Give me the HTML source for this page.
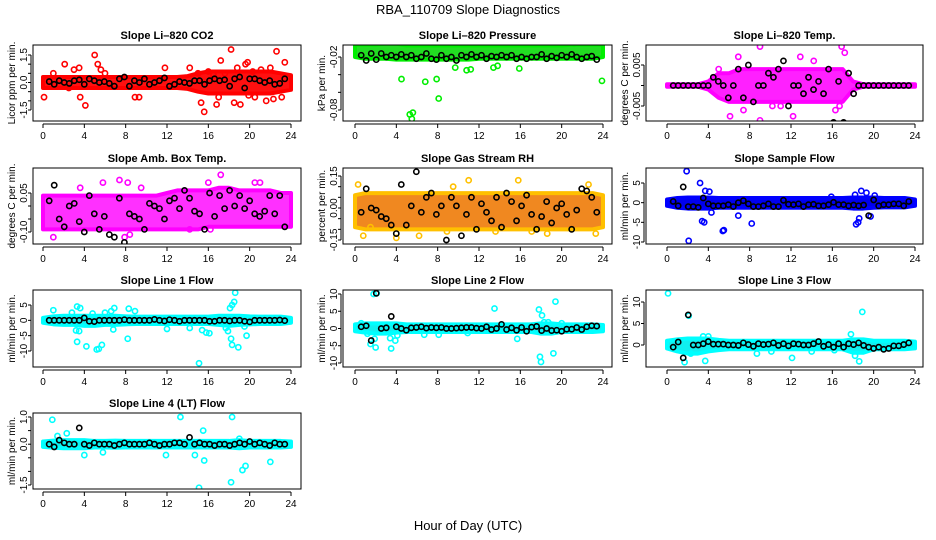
<!DOCTYPE html>
<html><head><meta charset="utf-8"><style>
html,body{margin:0;padding:0;background:#fff;}
svg{display:block;font-family:"Liberation Sans",Arial,sans-serif;}
</style></head><body>
<svg id="chart" width="936" height="540" viewBox="0 0 936 540" xmlns="http://www.w3.org/2000/svg">
<rect width="936" height="540" fill="#fff"/>
<text x="468" y="14" text-anchor="middle" font-size="13">RBA_110709  Slope Diagnostics</text>
<text x="468" y="530" text-anchor="middle" font-size="13">Hour of Day (UTC)</text>
<g id="panels"></g>
</svg>
<script>
const xTicks=[0,4,8,12,16,20,24];
const bandHours=[0,1,2,3,4,5,6,7,8,9,10,11,12,13,14,15,16,17,18,19,20,21,22,23,24];

const co2Hi=[0.3,0.3,0.3,0.3,0.3,0.3,0.3,0.3,0.3,0.3,0.3,0.3,0.3,0.3,0.35,0.5,0.6,0.6,0.6,0.6,0.6,0.6,0.6,0.5,0.4];
const co2Lo=[-0.3,-0.3,-0.3,-0.3,-0.3,-0.3,-0.3,-0.3,-0.3,-0.3,-0.3,-0.3,-0.3,-0.3,-0.35,-0.5,-0.6,-0.6,-0.6,-0.6,-0.6,-0.6,-0.6,-0.5,-0.4];
const co2Out=[[0.1,-0.8],[2.1,1.0],[3.0,0.7],[3.5,0.8],[3.6,-0.8],[4.1,-1.25],[5.0,1.5],[5.3,1.0],[5.6,0.7],[6.0,0.5],[8.9,-0.8],[9.3,-0.8],[11.8,0.8],[14.2,0.8],[15.3,-1.1],[15.6,-1.6],[16.0,0.6],[16.8,-1.2],[17.2,1.2],[18.2,1.8],[18.5,-1.1],[19.1,-1.2],[19.6,1.0],[19.8,1.1],[20.3,0.6],[21.1,0.7],[21.6,-1.0],[22.0,0.8],[22.6,1.7],[23.1,-0.8],[23.4,1.1],[16.5,0.4],[17.6,0.5],[18.8,0.8],[20.5,-0.8],[19.9,-0.7],[15.0,0.5],[17.0,-0.8],[22.3,-0.9],[1.0,0.5],[2.5,-0.3]];
const co2Black=[0.05,-0.1,0.1,0,-0.05,0.1,0.15,-0.1,0.2,0.1,0,0.05,-0.05,-0.2,0.2,0.3,-0.2,0.1,0,0.2,-0.1,0,0.1,0.25,-0.2,-0.1,0.05,0,-0.05,0.1,0.1,-0.1,0.1,0.2,0.1,0.15,-0.2,0.2,0.3,-0.3,0.2,0.2,0.1,0,0.1,-0.1,-0.05,0.2];

const presHi=[-0.006,-0.006,-0.006,-0.005,-0.005,-0.007,-0.007,-0.007,-0.007,-0.007,-0.007,-0.007,-0.007,-0.007,-0.007,-0.007,-0.007,-0.007,-0.007,-0.007,-0.007,-0.006,-0.006,-0.006,-0.006];
const presLo=[-0.02,-0.022,-0.022,-0.022,-0.023,-0.023,-0.023,-0.023,-0.023,-0.023,-0.023,-0.023,-0.022,-0.022,-0.022,-0.022,-0.022,-0.022,-0.022,-0.022,-0.022,-0.022,-0.022,-0.022,-0.02];
const presOut=[[4.5,-0.045],[5.3,-0.085],[5.5,-0.09],[5.6,-0.083],[6.8,-0.048],[7.9,-0.045],[8.1,-0.067],[9.7,-0.032],[10.8,-0.035],[11.2,-0.034],[13.4,-0.032],[13.8,-0.03],[15.9,-0.033],[23.9,-0.047],[0.8,-0.003],[3.6,-0.003],[17.0,-0.003],[21.2,-0.005]];
const presBlack=[-0.018,-0.024,-0.016,-0.023,-0.016,-0.02,-0.018,-0.02,-0.017,-0.02,-0.018,-0.022,-0.02,-0.016,-0.022,-0.023,-0.018,-0.022,-0.02,-0.024,-0.018,-0.02,-0.017,-0.02,-0.018,-0.022,-0.019,-0.02,-0.018,-0.02,-0.018,-0.022,-0.02,-0.022,-0.02,-0.02,-0.017,-0.022,-0.019,-0.021,-0.018,-0.02,-0.017,-0.02,-0.022,-0.02,-0.019,-0.023];

const tempHi=[0.0003,0.0003,0.0003,0.0003,0.001,0.003,0.003,0.004,0.004,0.004,0.004,0.004,0.004,0.004,0.004,0.004,0.004,0.004,0.001,0.0003,0.0003,0.0003,0.0003,0.0003,0.0003];
const tempLo=[-0.0003,-0.0003,-0.0003,-0.0003,-0.001,-0.003,-0.004,-0.004,-0.004,-0.004,-0.004,-0.004,-0.004,-0.004,-0.004,-0.004,-0.004,-0.004,-0.001,-0.0003,-0.0003,-0.0003,-0.0003,-0.0003,-0.0003];
const tempOut=[[9.0,0.0095],[16.9,0.0095],[9.0,-0.0085],[6.1,-0.0075],[12.2,-0.0075],[6.9,0.007],[17.2,0.008],[12.9,0.007],[14.2,0.006],[16.7,-0.005],[10.2,-0.005],[7.4,-0.006],[16.3,-0.006],[5.0,0.004],[11.0,-0.005]];
const tempBlack=[0,0,0,0,0,0,0,0,0.002,0.001,0,-0.003,0,0.004,-0.003,0.005,-0.004,0,0,0.003,0.002,0.004,0.006,-0.005,0,0,-0.002,0.002,-0.001,0.001,-0.002,0.004,-0.009,0.001,-0.009,0.003,-0.002,0,0,0,0,0,0,0,0,0,0,0];

const ambHi=[0.04,0.04,0.04,0.04,0.04,0.04,0.04,0.04,0.04,0.04,0.04,0.04,0.05,0.06,0.06,0.06,0.06,0.07,0.07,0.06,0.06,0.06,0.06,0.05,0.05];
const ambLo=[-0.09,-0.09,-0.09,-0.09,-0.09,-0.09,-0.09,-0.09,-0.09,-0.09,-0.09,-0.09,-0.09,-0.09,-0.09,-0.09,-0.08,-0.08,-0.08,-0.08,-0.08,-0.08,-0.08,-0.08,-0.08];
const ambOut=[[5.0,-0.16],[7.9,-0.12],[8.4,-0.11],[1.0,-0.12],[5.8,0.09],[7.4,0.1],[8.2,0.09],[16.0,0.09],[17.2,0.12],[20.5,0.09],[21.0,0.09],[14.2,-0.09],[16.2,-0.09],[3.6,0.07],[9.5,0.07]];
const ambBlack=[0.02,0.08,-0.05,-0.08,0,0.01,-0.06,-0.1,0.04,-0.03,-0.09,-0.04,-0.11,-0.12,0.03,-0.14,-0.03,-0.04,-0.05,-0.09,0.01,0,-0.01,-0.05,0.02,0.03,-0.01,0.06,0.03,-0.02,-0.03,-0.09,0.05,-0.04,0.04,-0.01,0.06,0,0.04,-0.01,0.02,-0.03,-0.04,-0.02,0.04,-0.03,0.04,-0.08];

const rhHi=[0.06,0.07,0.07,0.07,0.07,0.07,0.07,0.07,0.07,0.07,0.07,0.07,0.07,0.07,0.07,0.07,0.07,0.07,0.07,0.07,0.07,0.07,0.07,0.07,0.06];
const rhLo=[-0.09,-0.1,-0.1,-0.1,-0.1,-0.1,-0.1,-0.1,-0.1,-0.1,-0.1,-0.1,-0.1,-0.1,-0.1,-0.1,-0.1,-0.1,-0.1,-0.1,-0.1,-0.1,-0.1,-0.1,-0.09];
const rhOut=[[0.3,0.11],[0.8,-0.13],[4.0,-0.14],[6.2,-0.13],[8.9,-0.11],[11.0,0.13],[15.8,0.13],[17.1,-0.11],[18.6,-0.12],[23.3,-0.12],[22.6,0.11],[13.6,-0.11],[1.5,-0.09],[9.5,0.1]];
const rhBlack=[-0.02,0.09,0,-0.01,-0.04,-0.05,-0.08,-0.12,0.11,-0.08,0.01,0.17,-0.02,0.05,0.07,-0.03,0.01,-0.15,0.05,0.01,-0.13,-0.03,0.05,-0.1,0.02,-0.02,-0.06,0.05,-0.09,0.07,0.03,-0.06,0.01,0.06,-0.03,-0.1,-0.04,0.03,-0.07,0,0.02,-0.03,-0.1,-0.01,0.09,0.08,0.05,-0.02];

const sfHi=[0.8,1.2,1.3,1.3,1.3,1.2,1.2,1.2,1.2,1.2,1.2,1.2,1.2,1.2,1.2,1.2,1.2,1.2,1.3,1.3,1.3,1.2,1.2,1.2,0.8];
const sfLo=[-0.8,-1.3,-1.5,-1.5,-1.5,-1.3,-1.3,-1.3,-1.3,-1.3,-1.3,-1.3,-1.3,-1.3,-1.3,-1.3,-1.3,-1.3,-1.5,-1.5,-1.3,-1.2,-1.2,-1.2,-0.8];
const sfOut=[[1.9,8.0],[2.1,-9.7],[3.2,5],[3.4,-4.7],[3.6,-5],[3.7,3],[4.1,2.8],[4.3,-2.5],[5.4,-7.2],[5.5,-7],[6.9,-3.3],[8.2,-5.3],[18.3,-5.5],[18.5,-5],[18.6,-4],[19.7,-3.5],[18.8,3],[19.3,2.5],[20.1,1.8],[15.9,1.5],[18.2,2]];
const sfBlack=[0.3,-0.8,4,-1,-1,-1.2,1.2,-0.3,-0.8,-0.8,-0.8,-0.5,-1,0,0.5,-0.3,-1,-1,-0.8,-0.3,-1,-1,0.6,-0.4,-0.5,-0.3,-1,-0.5,-0.4,-0.8,-0.8,-0.5,0.1,-0.5,-0.5,-0.8,-0.6,-0.8,-0.6,-3.3,0.7,-0.8,-0.5,-0.5,-0.3,-0.3,-0.8,0.3];

const l1Hi=[0.8,1.3,1.5,1.5,1.5,1.5,1.5,1.5,1.3,1.2,1.2,1.2,1.2,1.2,1.2,1.2,1.2,1.5,1.5,1.5,1.3,1.2,1.2,1.2,0.8];
const l1Lo=[-0.8,-1.3,-1.5,-1.5,-1.8,-1.8,-1.5,-1.5,-1.3,-1.2,-1.2,-1.2,-1.2,-1.2,-1.2,-1.2,-1.2,-1.5,-1.8,-1.5,-1.3,-1.2,-1.2,-1.2,-0.8];
const l1Out=[[1.0,3.3],[2.8,2.5],[3.3,4.5],[3.6,4],[3.3,-7],[3.5,-3.5],[3.2,-3.3],[4.2,-8.5],[4.8,2.2],[5.2,-9.5],[5.4,-9.3],[5.7,-8],[6.0,2.5],[6.6,3],[6.9,4],[6.8,-3],[8.2,-6],[8.3,3.8],[8.9,3],[12.0,-2.8],[14.2,-2.5],[15.1,-14],[15.4,-3.2],[15.8,-4],[16.1,-4.2],[17.7,-2.5],[17.9,-3.5],[18.1,4],[18.3,5],[18.5,6],[18.6,9],[18.2,-6],[18.3,-8],[18.9,-8.8],[19.7,-5],[19.5,-2]];
const l1Black=[0,0,0,0,0,0,0,0.8,-0.3,-0.4,0,0,0,0,0,0.2,0,0,0,0,0,0.3,0,-0.2,0.2,0,-0.3,0,0,0,0,0,-0.3,-0.3,0,0,-0.2,0,0,-0.3,-0.5,0,0,0,0,0,0.1,-0.1];

const l2Hi=[1.2,1.5,1.5,1.5,1.5,1.2,1.2,1.2,1.2,1.2,1.2,1.2,1.2,1.2,1.2,1.2,1.2,1.2,1.5,1.5,1.2,1.2,1.2,1.2,1.0];
const l2Lo=[-0.8,-1.2,-1.5,-1.5,-1.2,-1.0,-1.0,-1.0,-1.0,-1.0,-1.0,-1.0,-1.0,-1.0,-1.0,-1.0,-1.0,-1.0,-1.5,-1.5,-1.0,-1.0,-1.0,-1.0,-0.8];
const l2Out=[[1.8,10],[2.1,10.2],[0.6,1.5],[1.2,-1.5],[1.5,-4.5],[1.9,-3],[2.0,-5.5],[3.4,-2.8],[3.5,-5.8],[3.9,-3.5],[4.1,-2],[6.7,-1.8],[8.1,-1.8],[10.9,-1.3],[13.5,5.8],[15.7,-3],[17.8,5.5],[17.9,-8.2],[18.0,-9.7],[18.1,3.8],[18.3,1.8],[18.7,1.8],[19.2,-7.2],[19.4,7.8],[20.0,1.5]];
const l2Black=[0.5,0.8,-3.5,10.2,0,0.2,3.5,0.5,0,-0.5,0.2,0.3,0.5,0.1,0.3,0.2,0.3,0,0,0.1,0.2,0.3,0.3,0.1,0,0.5,-0.3,0,1.2,-0.3,0.2,-0.5,0.3,-0.8,0.4,0.6,-0.6,0,-0.6,-0.5,-0.8,-0.2,-0.2,0.3,-0.3,0.5,0.8,0.7];

const l3Hi=[1.0,1.3,1.5,1.5,1.5,1.2,1.0,1.0,1.0,1.0,1.0,1.0,1.0,1.0,1.0,1.0,1.0,1.0,1.3,1.3,1.0,1.0,1.0,1.0,0.8];
const l3Lo=[-0.8,-1.5,-2.0,-2.0,-1.5,-1.2,-1.0,-1.0,-1.0,-1.0,-1.0,-1.0,-1.0,-1.0,-1.0,-1.0,-1.0,-1.0,-1.8,-1.8,-1.0,-1.0,-1.0,-1.0,-0.8];
const l3Out=[[0.1,12],[1.7,-4],[2.1,6.8],[2.3,-2],[3.7,-3.7],[3.5,2],[4.0,2],[8.7,-2],[10.1,-1.5],[12.1,-3],[14.0,-1.5],[16.2,-1.2],[17.8,2.5],[18.2,-2.5],[18.6,-3.8],[18.9,7.7]];
const l3Black=[-0.5,0.7,-3,7,0,0,0.3,0.8,0.2,0.2,0.2,0,0,-0.1,0.5,0.1,-0.3,0.3,0.1,0.2,0.5,-0.1,0.3,-0.2,0.3,0.2,0,0,0.3,0.8,-0.3,0.1,-0.5,0.3,-0.5,0.3,0.1,0.5,-0.1,-0.5,-0.8,-0.5,-1,-0.8,-0.2,-0.2,0.1,0.5];

const l4Hi=[0.1,0.13,0.15,0.15,0.15,0.12,0.12,0.13,0.12,0.12,0.12,0.12,0.12,0.12,0.12,0.12,0.12,0.12,0.12,0.15,0.12,0.12,0.12,0.12,0.1];
const l4Lo=[-0.1,-0.13,-0.15,-0.15,-0.15,-0.12,-0.12,-0.13,-0.12,-0.12,-0.12,-0.12,-0.12,-0.12,-0.12,-0.12,-0.12,-0.12,-0.12,-0.15,-0.12,-0.12,-0.12,-0.12,-0.1];
const l4Out=[[0.9,0.9],[1.4,0.3],[2.3,0.4],[4.0,-0.4],[5.8,-0.3],[11.9,-0.4],[13.3,1.0],[14.7,-0.4],[15.5,0.5],[15.6,-0.6],[15.1,-1.6],[18.3,1.0],[18.2,-1.4],[19.3,-0.95],[19.6,-0.8],[22.0,-0.65],[19.0,0.2]];
const l4Black=[0,-0.1,0.15,0.05,0,0,0.6,0,-0.05,0.05,0,0,0,-0.05,0,0.05,0,0,0,0,0.05,0,-0.05,0,0,0.05,0.05,0,0.25,0,0.05,0,0,-0.05,0,0,-0.05,0,0.05,0,0.1,0,0.05,0,-0.05,0.05,0,0];

const blackHours=[];for(let i=0;i<48;i++)blackHours.push(0.6+i*0.485);

const NS="http://www.w3.org/2000/svg";
function mk(tag,attrs,parent){const e=document.createElementNS(NS,tag);for(const k in attrs)e.setAttribute(k,attrs[k]);parent.appendChild(e);return e;}
const cols=[{l:33,r:301,x0:43,x24:291},{l:343,r:612,x0:355,x24:603},{l:646,r:923,x0:667,x24:915}];
const rows=[{t:45,b:121},{t:168,b:244},{t:290,b:367},{t:413,b:489}];
const panels=[
 {key:'co2',title:'Slope Li\u2013820 CO2',ylab:'Licor ppm per min.',c:0,r:0,v1:1.5,y1:55,v2:-1.5,y2:110,ticks:[-1.5,-1,-0.5,0,0.5,1,1.5],labels:[[1.5,'1.5'],[0,'0.0'],[-1.5,'-1.5']],col:'#ff0000',band:'#ff1010',hi:co2Hi,lo:co2Lo,out:co2Out,blk:co2Black},
 {key:'pressure',title:'Slope Li\u2013820 Pressure',ylab:'kPa per min.',c:1,r:0,v1:-0.02,y1:57,v2:-0.08,y2:110,ticks:[-0.02,-0.04,-0.06,-0.08],labels:[[-0.02,'-0.02'],[-0.08,'-0.08']],col:'#00ee00',band:'#22dd22',hi:presHi,lo:presLo,out:presOut,blk:presBlack},
 {key:'li820-temp',title:'Slope Li\u2013820 Temp.',ylab:'degrees C per min.',c:2,r:0,v1:0.005,y1:65,v2:-0.005,y2:106,ticks:[0.005,0,-0.005],labels:[[0.005,'0.005'],[-0.005,'-0.005']],col:'#ff00ff',band:'#ff20ff',hi:tempHi,lo:tempLo,out:tempOut,blk:tempBlack},
 {key:'amb-box-temp',title:'Slope Amb. Box Temp.',ylab:'degrees C per min.',c:0,r:1,v1:0.05,y1:193,v2:-0.1,y2:232,ticks:[0.05,0,-0.05,-0.1],labels:[[0.05,'0.05'],[-0.1,'-0.10']],col:'#ff00ff',band:'#ff30ff',hi:ambHi,lo:ambLo,out:ambOut,blk:ambBlack},
 {key:'gas-stream-rh',title:'Slope Gas Stream RH',ylab:'percent per min.',c:1,r:1,v1:0.15,y1:176,v2:-0.15,y2:240,ticks:[0.15,0.1,0.05,0,-0.05,-0.1,-0.15],labels:[[0.15,'0.15'],[0,'0.00'],[-0.15,'-0.15']],col:'#ffc000',band:'#f08820',hi:rhHi,lo:rhLo,out:rhOut,blk:rhBlack},
 {key:'sample-flow',title:'Slope Sample Flow',ylab:'ml/min per min.',c:2,r:1,v1:5,y1:183,v2:-10,y2:242,ticks:[5,0,-5,-10],labels:[[5,'5'],[0,'0'],[-5,'-5'],[-10,'-10']],col:'#0000ff',band:'#0000ee',hi:sfHi,lo:sfLo,out:sfOut,blk:sfBlack},
 {key:'line1-flow',title:'Slope Line 1 Flow',ylab:'ml/min per min.',c:0,r:2,v1:5,y1:305,v2:-10,y2:351,ticks:[5,0,-5,-10],labels:[[5,'5'],[0,'0'],[-5,'-5'],[-10,'-10']],col:'#00ffff',band:'#10f0f0',hi:l1Hi,lo:l1Lo,out:l1Out,blk:l1Black},
 {key:'line2-flow',title:'Slope Line 2 Flow',ylab:'ml/min per min.',c:1,r:2,v1:10,y1:294,v2:-10,y2:363,ticks:[10,5,0,-5,-10],labels:[[10,'10'],[5,'5'],[0,'0'],[-5,'-5'],[-10,'-10']],col:'#00ffff',band:'#10f0f0',hi:l2Hi,lo:l2Lo,out:l2Out,blk:l2Black},
 {key:'line3-flow',title:'Slope Line 3 Flow',ylab:'ml/min per min.',c:2,r:2,v1:10,y1:302,v2:0,y2:345,ticks:[10,5,0],labels:[[10,'10'],[5,'5'],[0,'0']],col:'#00ffff',band:'#10f0f0',hi:l3Hi,lo:l3Lo,out:l3Out,blk:l3Black},
 {key:'line4-flow',title:'Slope Line 4 (LT) Flow',ylab:'ml/min per min.',c:0,r:3,v1:1,y1:417,v2:-1.5,y2:485,ticks:[1,0.5,0,-0.5,-1,-1.5],labels:[[1,'1.0'],[0,'0.0'],[-1.5,'-1.5']],col:'#00ffff',band:'#10f0f0',hi:l4Hi,lo:l4Lo,out:l4Out,blk:l4Black}
];
const root=document.getElementById('panels');
panels.forEach(p=>{
 const C=cols[p.c],R=rows[p.r];
 const xs=t=>C.x0+t*(C.x24-C.x0)/24;
 const ys=v=>p.y1+(v-p.v1)*(p.y2-p.y1)/(p.v2-p.v1);
 const g=mk('g',{},root);
 
 
 const ti=mk('text',{x:(C.l+C.r)/2,y:R.t-6,'text-anchor':'middle','font-size':11,'font-weight':'bold'},g);ti.textContent=p.title;
 
 
 const cx=C.l-18,cy=(R.t+R.b)/2;
 const yl=mk('text',{x:cx,y:cy,'text-anchor':'middle','font-size':10,transform:`rotate(-90 ${cx} ${cy})`},g);yl.textContent=p.ylab;
 
 
 const clip='clip-'+p.key;
 const cp=mk('clipPath',{id:clip},g);mk('rect',{x:C.l,y:R.t,width:C.r-C.l,height:R.b-R.t},cp);
 const pg=mk('g',{'clip-path':`url(#${clip})`},g);
 let pts=bandHours.map((h,i)=>xs(h)+','+ys(p.hi[i]));
 pts=pts.concat(bandHours.slice().reverse().map((h,j)=>{const i=bandHours.length-1-j;return xs(h)+','+ys(p.lo[i]);}));
 const band=mk('polygon',{points:pts.join(' '),fill:p.band,stroke:p.col,'stroke-width':4,'stroke-linejoin':'round'},pg);
 
 
 p.out.forEach(o=>{
  const c=mk('circle',{cx:xs(o[0]),cy:ys(o[1]),r:2.6,fill:'none',stroke:p.col,'stroke-width':1.6},pg);
  
  
 });
 p.blk.forEach((v,i)=>{
  const c=mk('circle',{cx:xs(blackHours[i]),cy:ys(v),r:2.6,fill:'none',stroke:'#000','stroke-width':1.6},pg);
  
  
 });
 const box=mk('rect',{x:C.l,y:R.t,width:C.r-C.l,height:R.b-R.t,fill:'none',stroke:'#000','stroke-width':1},g);
 
 
 const ax=mk('g',{},g);
 
 
 mk('line',{x1:xs(0),x2:xs(24),y1:R.b+3,y2:R.b+3,stroke:'#000'},ax);
 xTicks.forEach(t=>{mk('line',{x1:xs(t),x2:xs(t),y1:R.b+3,y2:R.b+7,stroke:'#000'},ax);
  const tx=mk('text',{x:xs(t),y:R.b+18,'text-anchor':'middle','font-size':10},ax);tx.textContent=t;});
 const ay=mk('g',{},g);
 
 
 const tv=p.ticks.map(ys);
 mk('line',{x1:C.l-2,x2:C.l-2,y1:Math.min(...tv),y2:Math.max(...tv),stroke:'#000'},ay);
 tv.forEach(y=>mk('line',{x1:C.l-2,x2:C.l-5,y1:y,y2:y,stroke:'#000'},ay));
 p.labels.forEach(l=>{const x=C.l-6,y=ys(l[0]);
  const tx=mk('text',{x:x,y:y,'text-anchor':'middle','font-size':10,transform:`rotate(-90 ${x} ${y})`},ay);tx.textContent=l[1];});
});
</script>
</body></html>
